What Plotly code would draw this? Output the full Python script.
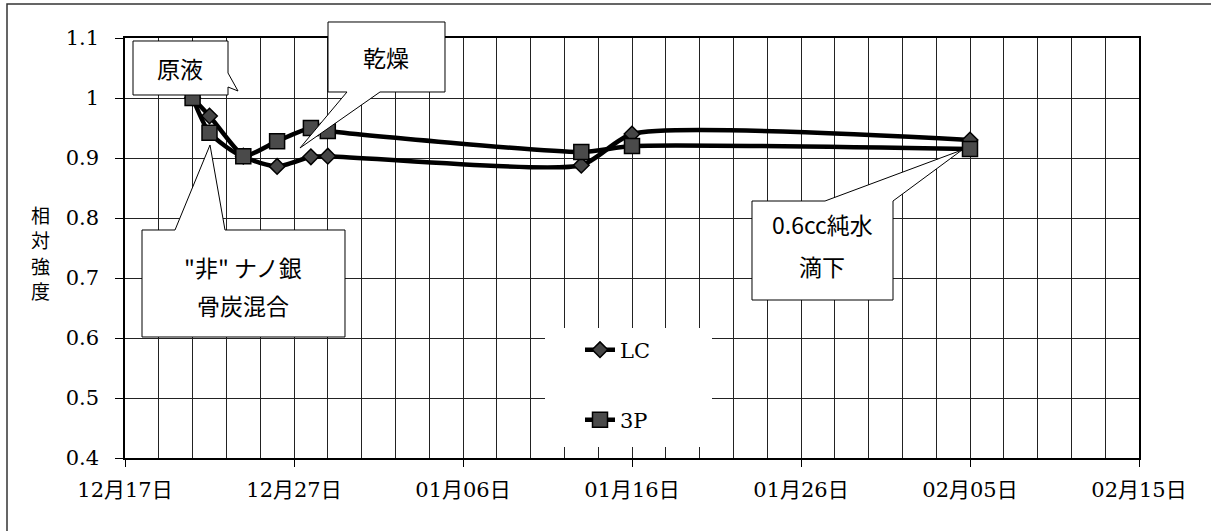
import plotly.graph_objects as go

# measurement dates and relative intensity of the two samples
dates = ["2010-12-21", "2010-12-22", "2010-12-24", "2010-12-26", "2010-12-28",
         "2010-12-29", "2011-01-13", "2011-01-16", "2011-02-05"]
lc_values = [1.0, 0.97, 0.903, 0.886, 0.902, 0.903, 0.888, 0.94, 0.93]
p3_values = [1.0, 0.942, 0.903, 0.928, 0.95, 0.945, 0.91, 0.92, 0.915]

series_names = ["LC", "3P"]
y_title = "相対強度"
x_range = ["2010-12-17", "2011-02-15"]
y_range = [0.4, 1.1]

DAY_MS = 86400000
W, H = 1211, 531
L, R, T, B = 125, 1139, 38, 458

NUM_FONT = "DejaVu Serif, Noto Sans CJK JP"
JP_FONT = "Noto Sans CJK JP, sans-serif"


def px(x):
    return (x - L) / (R - L)


def py(y):
    return (B - y) / (B - T)


def path(points):
    pts = [f"{px(x):.5f},{py(y):.5f}" for x, y in points]
    return "M" + " L".join(pts) + " Z"


fig = go.Figure()

fig.add_trace(go.Scatter(
    x=dates, y=lc_values, name=series_names[0], mode="lines+markers",
    line=dict(color="black", width=4.5, shape="spline", smoothing=0.6),
    marker=dict(symbol="diamond", size=12, color="#454545",
                line=dict(color="black", width=1.5)),
    legend="legend",
))
fig.add_trace(go.Scatter(
    x=dates, y=p3_values, name=series_names[1], mode="lines+markers",
    line=dict(color="black", width=4.5, shape="spline", smoothing=0.6),
    marker=dict(symbol="square", size=15, color="#4a4a4a",
                line=dict(color="black", width=1.5)),
    legend="legend2",
))

shapes = []
# white panel behind the legend entries
shapes.append(dict(type="rect", xref="paper", yref="paper",
                   x0=px(545), x1=px(712), y0=py(447), y1=py(328),
                   fillcolor="white", line=dict(width=0), layer="above"))

# callout boxes with pointers
callouts = [
    [(133, 41), (228, 41), (228, 73), (238, 91), (228, 87), (228, 95), (133, 95)],
    [(328, 22), (445, 22), (445, 92), (380, 92), (300, 148), (347, 92), (328, 92)],
    [(142, 230), (175, 230), (210, 145), (225, 230), (345, 230), (345, 337), (142, 337)],
    [(752, 201), (825, 201), (962, 150), (893, 201), (893, 300), (752, 300)],
]
for pts in callouts:
    shapes.append(dict(type="path", xref="paper", yref="paper", path=path(pts),
                       fillcolor="white", line=dict(color="black", width=1),
                       layer="above"))

# outer chart frame
shapes.append(dict(type="rect", xref="paper", yref="paper",
                   x0=px(7), x1=px(1215), y0=py(535), y1=py(4),
                   line=dict(color="#333333", width=1.5), layer="above"))

annotations = []
texts = [
    ("原液", 180, 68),
    ("乾燥", 386, 57),
    ("\"非\" ナノ銀", 243, 267),
    ("骨炭混合", 243, 305),
    ("0.6cc純水", 822, 224),
    ("滴下", 822, 266),
]
for txt, x, y in texts:
    annotations.append(dict(text=txt, x=px(x), y=py(y), xref="paper", yref="paper",
                            showarrow=False, xanchor="center", yanchor="middle",
                            font=dict(family=JP_FONT, size=23, color="black")))

# vertical axis title, one character per row
for ch, y in zip(y_title, [215, 240, 265, 290]):
    annotations.append(dict(text=ch, x=px(40), y=py(y),
                            xref="paper", yref="paper", showarrow=False,
                            xanchor="center", yanchor="middle", borderpad=0,
                            font=dict(family=JP_FONT, size=19, color="black")))

grid = "#222222"
legend_style = dict(xanchor="left", yanchor="middle", bgcolor="rgba(0,0,0,0)",
                    font=dict(family=NUM_FONT, size=21, color="black"))
fig.update_layout(
    width=W, height=H,
    margin=dict(l=L, r=W - R, t=T, b=H - B),
    paper_bgcolor="white", plot_bgcolor="white",
    shapes=shapes, annotations=annotations,
    showlegend=True,
    legend=dict(x=px(580), y=py(350), **legend_style),
    legend2=dict(x=px(580), y=py(420), visible=True, **legend_style),
    xaxis=dict(
        type="date", range=x_range, tick0=x_range[0], dtick=10 * DAY_MS,
        tickformat="%m月%d日", ticks="outside", ticklen=7, tickcolor="black",
        showline=True, linecolor="black", linewidth=1.5, mirror=True,
        showgrid=True, gridcolor=grid, gridwidth=1,
        minor=dict(dtick=2 * DAY_MS, tick0=x_range[0], showgrid=True,
                   gridcolor=grid, gridwidth=1),
        tickfont=dict(family=NUM_FONT, size=21, color="black"),
        ticklabelstandoff=5, zeroline=False,
    ),
    yaxis=dict(
        range=y_range, dtick=0.1, tick0=0.4, ticks="outside", ticklen=8,
        tickcolor="black", showline=True, linecolor="black", linewidth=1.5,
        mirror=True, showgrid=True, gridcolor=grid, gridwidth=1,
        tickfont=dict(family=NUM_FONT, size=21, color="black"),
        ticklabelstandoff=12, zeroline=False,
    ),
)

fig.write_html("out.html")
